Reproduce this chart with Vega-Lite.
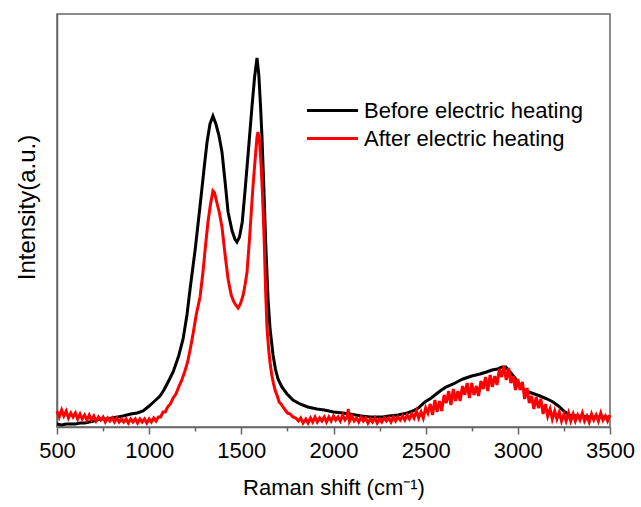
{
  "$schema": "https://vega.github.io/schema/vega-lite/v6.json",
  "width": 553,
  "height": 413,
  "autosize": "none",
  "padding": {"left": 57, "top": 14, "right": 31, "bottom": 80},
  "background": "white",
  "config": {
    "view": {"stroke": "#666666", "strokeWidth": 1.5},
    "font": "Liberation Sans",
    "axis": {"domainColor": "#666666", "domainWidth": 1.5, "tickColor": "#666666", "tickWidth": 1.5, "grid": false, "labelColor": "#000000", "titleColor": "#000000", "titleFontWeight": "normal", "labelFont": "Liberation Sans", "titleFont": "Liberation Sans"}
  },
  "datasets": {
    "before": [
      {"x":500,"y":3},{"x":525,"y":2},{"x":550,"y":3},{"x":575,"y":3},{"x":600,"y":3},{"x":625,"y":4},{"x":650,"y":4},{"x":675,"y":5},{"x":700,"y":6},{"x":733,"y":8},{"x":766,"y":8},{"x":800,"y":9},{"x":830,"y":10},{"x":858,"y":11},{"x":900,"y":13},{"x":935,"y":14},{"x":967,"y":16},{"x":1000,"y":21},{"x":1030,"y":26},{"x":1059,"y":31},{"x":1080,"y":37},{"x":1100,"y":44},{"x":1130,"y":55},{"x":1160,"y":71},{"x":1184,"y":88},{"x":1205,"y":112},{"x":1222,"y":138},{"x":1250,"y":178},{"x":1276,"y":221},{"x":1300,"y":262},{"x":1314,"y":285},{"x":1330,"y":303},{"x":1346,"y":311},{"x":1362,"y":303},{"x":1378,"y":292},{"x":1395,"y":275},{"x":1412,"y":245},{"x":1428,"y":215},{"x":1450,"y":196},{"x":1465,"y":188},{"x":1476,"y":185},{"x":1490,"y":190},{"x":1505,"y":205},{"x":1520,"y":236},{"x":1540,"y":280},{"x":1558,"y":321},{"x":1572,"y":350},{"x":1585,"y":369},{"x":1595,"y":352},{"x":1605,"y":318},{"x":1612,"y":290},{"x":1622,"y":240},{"x":1632,"y":185},{"x":1645,"y":128},{"x":1656,"y":98},{"x":1672,"y":72},{"x":1685,"y":58},{"x":1699,"y":48},{"x":1720,"y":40},{"x":1748,"y":33},{"x":1780,"y":27},{"x":1818,"y":23},{"x":1860,"y":20},{"x":1910,"y":18},{"x":1950,"y":17},{"x":2000,"y":15},{"x":2050,"y":14},{"x":2090,"y":13},{"x":2150,"y":11},{"x":2200,"y":10},{"x":2268,"y":10},{"x":2300,"y":11},{"x":2350,"y":12},{"x":2400,"y":14},{"x":2431,"y":16},{"x":2460,"y":19},{"x":2496,"y":25},{"x":2530,"y":29},{"x":2578,"y":36},{"x":2610,"y":40},{"x":2650,"y":43},{"x":2680,"y":46},{"x":2703,"y":48},{"x":2750,"y":51},{"x":2795,"y":53},{"x":2830,"y":55},{"x":2860,"y":57},{"x":2890,"y":58},{"x":2914,"y":60},{"x":2935,"y":60},{"x":2958,"y":55},{"x":2980,"y":50},{"x":3000,"y":45},{"x":3029,"y":38},{"x":3060,"y":35},{"x":3090,"y":33},{"x":3120,"y":31},{"x":3160,"y":28},{"x":3191,"y":25},{"x":3220,"y":21},{"x":3256,"y":15},{"x":3280,"y":12},{"x":3320,"y":11},{"x":3400,"y":10},{"x":3500,"y":10}
    ],
    "after": [
      {"x":500,"y":16},{"x":512,"y":10},{"x":525,"y":17},{"x":537,"y":11},{"x":550,"y":16},{"x":562,"y":9},{"x":575,"y":14},{"x":587,"y":10},{"x":600,"y":14},{"x":612,"y":8},{"x":625,"y":13},{"x":637,"y":8},{"x":650,"y":12},{"x":662,"y":7},{"x":675,"y":12},{"x":687,"y":7},{"x":700,"y":11},{"x":712,"y":6},{"x":725,"y":10},{"x":737,"y":7},{"x":750,"y":10},{"x":762,"y":5},{"x":775,"y":9},{"x":787,"y":6},{"x":800,"y":9},{"x":812,"y":5},{"x":825,"y":9},{"x":837,"y":5},{"x":850,"y":8},{"x":862,"y":5},{"x":875,"y":8},{"x":887,"y":4},{"x":900,"y":8},{"x":912,"y":5},{"x":925,"y":8},{"x":937,"y":4},{"x":950,"y":8},{"x":962,"y":5},{"x":975,"y":8},{"x":987,"y":4},{"x":1000,"y":8},{"x":1012,"y":5},{"x":1025,"y":9},{"x":1037,"y":6},{"x":1050,"y":10},{"x":1062,"y":10},{"x":1075,"y":15},{"x":1087,"y":15},{"x":1100,"y":20},{"x":1115,"y":23},{"x":1130,"y":29},{"x":1145,"y":33},{"x":1160,"y":40},{"x":1175,"y":46},{"x":1194,"y":56},{"x":1210,"y":66},{"x":1225,"y":80},{"x":1238,"y":93},{"x":1255,"y":112},{"x":1276,"y":130},{"x":1292,"y":155},{"x":1305,"y":180},{"x":1319,"y":205},{"x":1332,"y":222},{"x":1346,"y":236},{"x":1355,"y":234},{"x":1365,"y":226},{"x":1380,"y":215},{"x":1395,"y":200},{"x":1412,"y":172},{"x":1428,"y":148},{"x":1445,"y":132},{"x":1460,"y":125},{"x":1470,"y":122},{"x":1482,"y":119},{"x":1495,"y":123},{"x":1510,"y":132},{"x":1520,"y":142},{"x":1531,"y":155},{"x":1545,"y":190},{"x":1555,"y":218},{"x":1563,"y":240},{"x":1575,"y":268},{"x":1585,"y":290},{"x":1590,"y":295},{"x":1598,"y":288},{"x":1607,"y":262},{"x":1615,"y":232},{"x":1625,"y":180},{"x":1632,"y":135},{"x":1639,"y":100},{"x":1648,"y":78},{"x":1656,"y":64},{"x":1665,"y":52},{"x":1675,"y":43},{"x":1683,"y":37},{"x":1695,"y":31},{"x":1705,"y":25},{"x":1715,"y":23},{"x":1726,"y":20},{"x":1738,"y":17},{"x":1750,"y":14},{"x":1765,"y":13},{"x":1780,"y":10},{"x":1795,"y":9},{"x":1810,"y":6},{"x":1822,"y":9},{"x":1835,"y":4},{"x":1850,"y":8},{"x":1862,"y":4},{"x":1875,"y":9},{"x":1887,"y":5},{"x":1900,"y":10},{"x":1912,"y":5},{"x":1925,"y":9},{"x":1937,"y":6},{"x":1950,"y":10},{"x":1962,"y":5},{"x":1975,"y":10},{"x":1987,"y":6},{"x":2000,"y":11},{"x":2012,"y":7},{"x":2025,"y":10},{"x":2037,"y":6},{"x":2050,"y":12},{"x":2062,"y":7},{"x":2075,"y":10},{"x":2080,"y":18},{"x":2087,"y":6},{"x":2100,"y":11},{"x":2112,"y":6},{"x":2125,"y":9},{"x":2137,"y":5},{"x":2150,"y":10},{"x":2162,"y":6},{"x":2175,"y":9},{"x":2187,"y":4},{"x":2200,"y":8},{"x":2212,"y":5},{"x":2225,"y":9},{"x":2237,"y":4},{"x":2250,"y":8},{"x":2262,"y":5},{"x":2275,"y":9},{"x":2287,"y":6},{"x":2300,"y":9},{"x":2312,"y":5},{"x":2325,"y":10},{"x":2337,"y":6},{"x":2350,"y":10},{"x":2362,"y":7},{"x":2375,"y":11},{"x":2387,"y":7},{"x":2400,"y":12},{"x":2412,"y":8},{"x":2425,"y":13},{"x":2437,"y":9},{"x":2450,"y":16},{"x":2462,"y":9},{"x":2475,"y":15},{"x":2487,"y":9},{"x":2500,"y":19},{"x":2512,"y":14},{"x":2525,"y":23},{"x":2537,"y":12},{"x":2550,"y":27},{"x":2562,"y":15},{"x":2575,"y":26},{"x":2587,"y":16},{"x":2600,"y":32},{"x":2612,"y":24},{"x":2625,"y":36},{"x":2637,"y":22},{"x":2650,"y":38},{"x":2662,"y":26},{"x":2675,"y":36},{"x":2687,"y":26},{"x":2700,"y":41},{"x":2712,"y":32},{"x":2725,"y":44},{"x":2737,"y":29},{"x":2750,"y":44},{"x":2762,"y":32},{"x":2775,"y":41},{"x":2787,"y":31},{"x":2800,"y":46},{"x":2812,"y":38},{"x":2825,"y":50},{"x":2837,"y":36},{"x":2850,"y":52},{"x":2862,"y":40},{"x":2875,"y":51},{"x":2887,"y":42},{"x":2900,"y":58},{"x":2912,"y":50},{"x":2925,"y":61},{"x":2937,"y":47},{"x":2950,"y":59},{"x":2962,"y":44},{"x":2975,"y":51},{"x":2987,"y":37},{"x":3000,"y":48},{"x":3012,"y":37},{"x":3025,"y":45},{"x":3037,"y":28},{"x":3050,"y":39},{"x":3062,"y":24},{"x":3075,"y":31},{"x":3087,"y":18},{"x":3100,"y":30},{"x":3112,"y":19},{"x":3125,"y":28},{"x":3137,"y":13},{"x":3150,"y":23},{"x":3162,"y":11},{"x":3175,"y":18},{"x":3187,"y":8},{"x":3200,"y":16},{"x":3212,"y":8},{"x":3225,"y":15},{"x":3237,"y":6},{"x":3250,"y":13},{"x":3262,"y":6},{"x":3275,"y":14},{"x":3287,"y":6},{"x":3300,"y":13},{"x":3312,"y":6},{"x":3325,"y":12},{"x":3337,"y":7},{"x":3350,"y":14},{"x":3362,"y":6},{"x":3375,"y":11},{"x":3387,"y":5},{"x":3400,"y":13},{"x":3412,"y":7},{"x":3425,"y":12},{"x":3437,"y":6},{"x":3450,"y":14},{"x":3462,"y":7},{"x":3475,"y":11},{"x":3487,"y":6},{"x":3500,"y":12}
    ]
  },
  "encoding": {
    "x": {
      "field": "x", "type": "quantitative",
      "scale": {"domain": [500, 3500], "nice": false, "zero": false},
      "axis": {
        "title": "Raman shift (cm⁻¹)",
        "titleFontSize": 22, "titlePadding": 16,
        "values": [500,750,1000,1250,1500,1750,2000,2250,2500,2750,3000,3250,3500],
        "labelExpr": "datum.value % 500 === 0 ? format(datum.value, 'd') : ''",
        "labelFontSize": 22, "labelPadding": 6, "labelFlush": false, "labelOverlap": false,
        "tickSize": {"condition": {"test": "datum.value % 500 === 0", "value": 7}, "value": 4}
      }
    },
    "y": {
      "field": "y", "type": "quantitative",
      "scale": {"domain": [0, 413], "nice": false, "zero": false},
      "axis": {"title": "Intensity(a.u.)", "titleFontSize": 24, "titlePadding": 18, "ticks": false, "labels": false, "titleY": 193}
    }
  },
  "layer": [
    {
      "data": {"name": "before"},
      "mark": {"type": "line", "strokeWidth": 3, "interpolate": "linear"},
      "encoding": {
        "color": {
          "datum": "Before electric heating",
          "type": "nominal",
          "scale": {"domain": ["Before electric heating", "After electric heating"], "range": ["#000000", "#ff0000"]},
          "legend": {
            "title": null, "orient": "none", "legendX": 264, "legendY": 85,
            "symbolType": "M-2.55,0H2.55", "symbolSize": 400, "symbolStrokeWidth": 3,
            "labelFontSize": 22, "labelFont": "Liberation Sans", "labelColor": "#000000", "labelOffset": 20,
            "rowPadding": 5, "padding": 0, "labelLimit": 400
          }
        }
      }
    },
    {
      "data": {"name": "after"},
      "mark": {"type": "line", "strokeWidth": 3, "interpolate": "linear"},
      "encoding": {
        "color": {"datum": "After electric heating", "type": "nominal"}
      }
    }
  ]
}
